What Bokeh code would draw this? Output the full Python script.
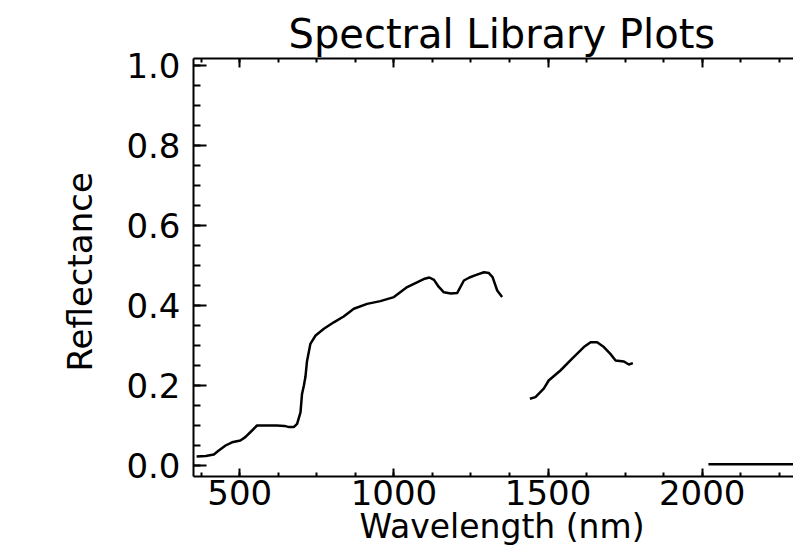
from bokeh.plotting import figure
from bokeh.models import (LinearAxis, SingleIntervalTicker, PrintfTickFormatter,
                          Title, Range1d, CustomJSTickFormatter)
from bokeh.embed import file_html
from bokeh.resources import INLINE

# ---- data ----
title_text = "Spectral Library Plots"
x_label = "Wavelength (nm)"
y_label = "Reflectance"

wl_vis_nir = [360, 390, 416, 432, 454, 475, 502, 518, 540, 556, 590, 620, 645, 660,
              675, 686, 697, 702, 708, 713, 718, 729, 746, 773, 805, 837, 870, 913,
              956, 1000, 1043, 1075, 1100, 1115, 1130, 1145, 1162, 1185, 1205, 1227,
              1245, 1265, 1292, 1308, 1320, 1335, 1351]
refl_vis_nir = [0.0225, 0.024, 0.0275, 0.0375, 0.05, 0.058, 0.0625, 0.071, 0.0875, 0.10,
                0.10, 0.10, 0.099, 0.096, 0.096, 0.104, 0.133, 0.179, 0.20, 0.221, 0.26,
                0.304, 0.325, 0.342, 0.358, 0.3725, 0.392, 0.404, 0.411, 0.421, 0.446,
                0.458, 0.467, 0.47, 0.464, 0.447, 0.433, 0.43, 0.431, 0.4625, 0.47,
                0.476, 0.483, 0.481, 0.471, 0.4375, 0.421]

wl_swir1 = [1441, 1459, 1486, 1502, 1540, 1578, 1616, 1638, 1659, 1681, 1702, 1719,
            1746, 1762, 1775]
refl_swir1 = [0.167, 0.171, 0.192, 0.2125, 0.2375, 0.267, 0.296, 0.308, 0.308, 0.296,
              0.279, 0.2625, 0.26, 0.2525, 0.256]

wl_swir2 = [2020, 2500]
refl_swir2 = [0.003, 0.003]

x_tick_interval = 500
y_tick_interval = 0.2

nan = float("nan")
xs = wl_vis_nir + [nan] + wl_swir1 + [nan] + wl_swir2
ys = refl_vis_nir + [nan] + refl_swir1 + [nan] + refl_swir2

FONT = "DejaVu Sans"

p = figure(width=793, height=552, x_range=Range1d(350, 2296),
           y_range=Range1d(-0.0275, 1.0175), output_backend="svg",
           toolbar_location=None, min_border_left=193, min_border_right=0,
           min_border_top=58, min_border_bottom=76)
p.outline_line_color = None
p.grid.visible = False
p.background_fill_color = "white"
p.border_fill_color = "white"

p.line(xs, ys, line_color="black", line_width=2.5)


def style_axis(ax, tick_in, minor_in):
    ax.axis_line_color = "black"
    ax.axis_line_width = 2
    ax.major_tick_line_color = "black"
    ax.major_tick_line_width = 2
    ax.minor_tick_line_color = "black"
    ax.minor_tick_line_width = 2
    ax.major_tick_in = tick_in
    ax.major_tick_out = 0
    ax.minor_tick_in = minor_in
    ax.minor_tick_out = 0
    ax.major_label_text_font = FONT
    ax.major_label_text_font_size = "34px"
    ax.major_label_text_color = "black"


xa = p.xaxis[0]
xa.ticker = SingleIntervalTicker(interval=x_tick_interval, num_minor_ticks=4)
style_axis(xa, 8, 4)
xa.major_label_standoff = 3

ya = p.yaxis[0]
ya.ticker = SingleIntervalTicker(interval=y_tick_interval, num_minor_ticks=4)
ya.formatter = PrintfTickFormatter(format="%.1f")
style_axis(ya, 13, 7)
ya.major_label_standoff = 13

top = LinearAxis(ticker=SingleIntervalTicker(interval=x_tick_interval, num_minor_ticks=4),
                 formatter=CustomJSTickFormatter(code="return ''"))
style_axis(top, 9, 4)
top.major_label_text_font_size = "1px"
top.major_label_standoff = 0
p.add_layout(top, "above")

p.add_layout(Title(text=title_text, align="left", offset=95, standoff=3,
                   text_font=FONT, text_font_size="40px", text_color="black",
                   text_font_style="normal"), "above")
p.add_layout(Title(text=x_label, align="left", offset=166, standoff=-6,
                   text_font=FONT, text_font_size="33px", text_color="black",
                   text_font_style="normal"), "below")
p.add_layout(Title(text=y_label, align="left", offset=105, standoff=48,
                   text_font=FONT, text_font_size="34px", text_color="black",
                   text_font_style="normal"), "left")

open("out.html", "w").write(file_html(p, INLINE))
